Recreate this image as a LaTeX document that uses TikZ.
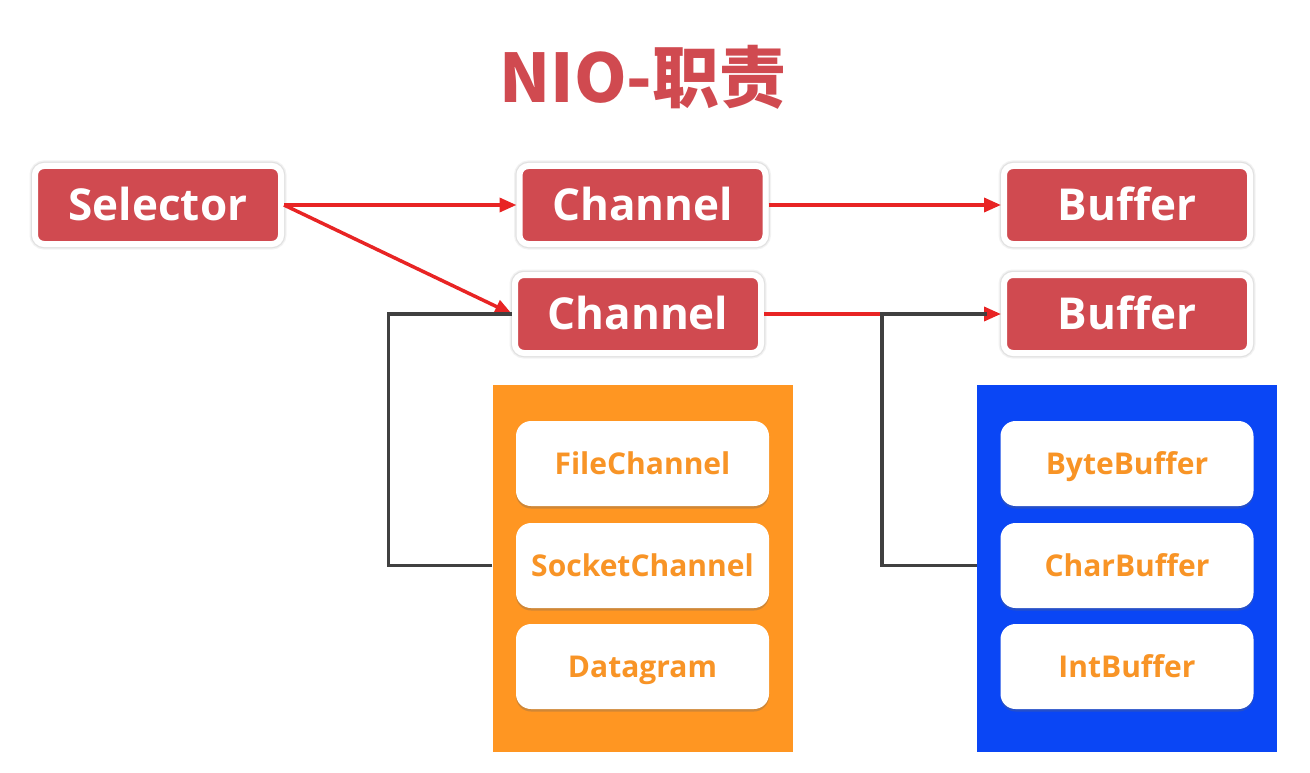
\documentclass[tikz,border=0pt]{standalone}
\usepackage{fontspec}
\setmainfont{Open Sans}
\newfontfamily\cjk{Noto Sans CJK SC}
\usetikzlibrary{arrows.meta,positioning,shadows}
\definecolor{nioRed}{RGB}{208,74,80}
\definecolor{arrowRed}{RGB}{232,36,36}
\definecolor{chOrange}{RGB}{255,150,34}
\definecolor{txOrange}{RGB}{248,148,38}
\definecolor{bfBlue}{RGB}{10,70,245}
\definecolor{linkGrey}{RGB}{64,64,64}
\tikzset{
  role/.style={fill=nioRed, draw=white, line width=6pt, rounded corners=9pt,
               minimum width=246pt, minimum height=78pt, inner sep=0pt, text=white,
               font=\fontsize{44}{50}\selectfont\bfseries, text height=31.5pt, text depth=0pt,
               preaction={draw=black, draw opacity=0.05, line width=11pt},
               preaction={draw=black, draw opacity=0.07, line width=8.5pt}},
  group/.style={minimum width=300pt, minimum height=367pt, inner sep=0pt},
  item/.style={fill=white, rounded corners=15pt, minimum width=253pt, minimum height=85pt,
               inner sep=0pt, text=txOrange, font=\fontsize{30}{36}\selectfont\bfseries,
               text height=21.4pt, text depth=0pt,
               drop shadow={shadow xshift=0pt, shadow yshift=-2.5pt, opacity=0.3, fill=black!60}},
  ar/.style={-{Triangle[length=17pt,width=14pt]}, draw=arrowRed, line width=3.5pt},
  link/.style={draw=linkGrey, line width=3.5pt},
}

\begin{document}
\begin{tikzpicture}[x=1pt, y=-1pt]
\useasboundingbox (0,0) rectangle (1310,773);
% title
\node[text=nioRed, font=\cjk\fontsize{67}{70}\selectfont\bfseries, text height=49pt, text depth=0pt]
  (title) at (643,78) {NIO-职责};

% roles
\node[role] (selector) at (158,205) {Selector};
\node[role] (channelA) at (642.5,205) {Channel};
\node[role] (bufferA) at (1127,205) {Buffer};
\node[role] (channelB) at (638,314) {Channel};
\node[role] (bufferB) at (1127,314) {Buffer};

% kinds of channel and buffer
\node[group, fill=chOrange] (chanGroup) at (642.5,568.5) {};
\node[group, fill=bfBlue] (bufGroup) at (1127,568.5) {};
\foreach \nm/\txt/\yy in {fileCh/FileChannel/463.5, socketCh/SocketChannel/565.5, datagram/Datagram/666.5}
  \node[item] (\nm) at (642.5,\yy) {\txt};
\foreach \nm/\txt/\yy in {byteBuf/ByteBuffer/463.5, charBuf/CharBuffer/565.5, intBuf/IntBuffer/666.5}
  \node[item] (\nm) at (1127,\yy) {\txt};

% arrows
\draw[ar] (selector.east) -- (channelA.west);
\draw[ar] (selector.east) -- (channelB.west);
\draw[ar] (channelA.east) -- (bufferA.west);
\draw[ar] (channelB.east) -- (bufferB.west);

% group links
\draw[link] (chanGroup.west |- socketCh) -- ++(-104,0) |- (channelB.west);
\draw[link] (bufGroup.west |- charBuf) -- ++(-95,0) |- ([xshift=-14pt]bufferB.west);
\end{tikzpicture}
\end{document}
